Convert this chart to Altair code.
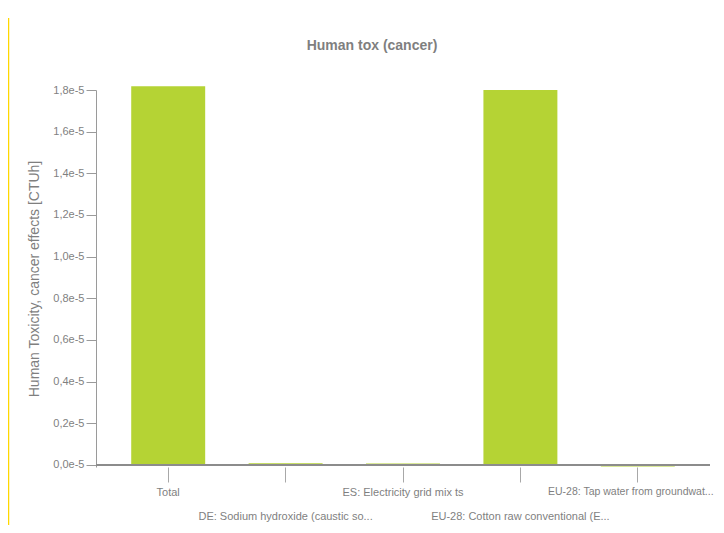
import altair as alt
import pandas as pd

categories = [
    "Total",
    "DE: Sodium hydroxide (caustic so...",
    "ES: Electricity grid mix ts",
    "EU-28: Cotton raw conventional (E...",
    "EU-28: Tap water from groundwat...",
]
values = [1.818e-5, 0.008e-5, 0.007e-5, 1.800e-5, -0.008e-5]
y_ticks = [i * 1e-6 for i in range(0, 19)]
chart_title = "Human tox (cancer)"

df = pd.DataFrame({"process": categories, "value": values})

FONT = "Liberation Sans"
GRAY = "#7f7f7f"
W, H = 614, 377

second_row = categories[1::2]
arr = "[" + ",".join("'" + c.replace("'", "\\'") + "'" for c in second_row) + "]"
x_label_expr = f"indexof({arr}, datum.value) >= 0 ? ['', datum.value] : datum.value"
last_test = "datum.value == '" + categories[-1].replace("'", "\\'") + "'"

y_label_expr = ("round(datum.value*1e6) % 2 == 0 ? "
                "replace(format(datum.value*1e5, '.1f'), '.', ',') + 'e-5' : ''")

yscale = alt.Scale(domain=[-0.01e-5, 1.8e-5], nice=False, zero=False)

bars = alt.Chart(df).mark_bar(color="#b5d334", clip=False).encode(
    x=alt.X("process:N", sort=categories,
            scale=alt.Scale(paddingInner=0.37, paddingOuter=0.3),
            axis=alt.Axis(title=None, labelAngle=0, domain=False,
                          tickSize=15, tickColor="#a8a8a8", tickWidth=1,
                          labelExpr=x_label_expr, labelFont=FONT,
                          labelFontSize={"condition": {"test": last_test, "value": 10.5}, "value": 11},
                          labelOffset={"condition": {"test": last_test, "value": -7}, "value": 0},
                          labelColor=GRAY,
                          labelLineHeight=24, labelPadding=4,
                          labelOverlap=False, labelBaseline="top",
                          labelLimit=400)),
    y=alt.Y("value:Q", scale=yscale,
            axis=alt.Axis(title="Human Toxicity, cancer effects [CTUh]",
                          titleFont=FONT, titleFontSize=14,
                          titleFontWeight="normal", titleColor=GRAY,
                          titlePadding=11,
                          values=y_ticks, labelExpr=y_label_expr,
                          labelFont=FONT, labelFontSize=11, labelColor=GRAY,
                          labelPadding=2, grid=False,
                          domainColor="#9a9a9a", tickColor="#9a9a9a",
                          tickSize={"condition": {"test": "round(datum.value*1e6) % 2 == 0", "value": 10}, "value": 5},
                          labelOverlap=False)),
)

zero_df = pd.DataFrame({"v": [0.0], "t": [chart_title]})
zero_line = alt.Chart(zero_df).mark_rule(color="#8c8c8c", strokeWidth=2).encode(
    y=alt.Y("v:Q", scale=yscale), x=alt.value(0), x2=alt.value(W)
)

yellow = alt.Chart(zero_df).mark_rule(color="#ffd800", strokeWidth=1.5, clip=False).encode(
    x=alt.value(-87.5), y=alt.value(-72), y2=alt.value(H + 62)
)

title = alt.Chart(zero_df).mark_text(font=FONT, fontSize=14, fontWeight="bold",
                                     color=GRAY, align="center", baseline="middle",
                                     clip=False).encode(
    text="t:N", x=alt.value(276), y=alt.value(-44)
)

chart = alt.layer(bars, zero_line, yellow, title).properties(
    width=W, height=H,
    autosize=alt.AutoSizeParams(type="none"),
    padding={"left": 88, "top": 82, "right": 6, "bottom": 58},
).configure_view(stroke=None)

chart.save("out.html", embed_options={"renderer": "svg", "actions": False})
